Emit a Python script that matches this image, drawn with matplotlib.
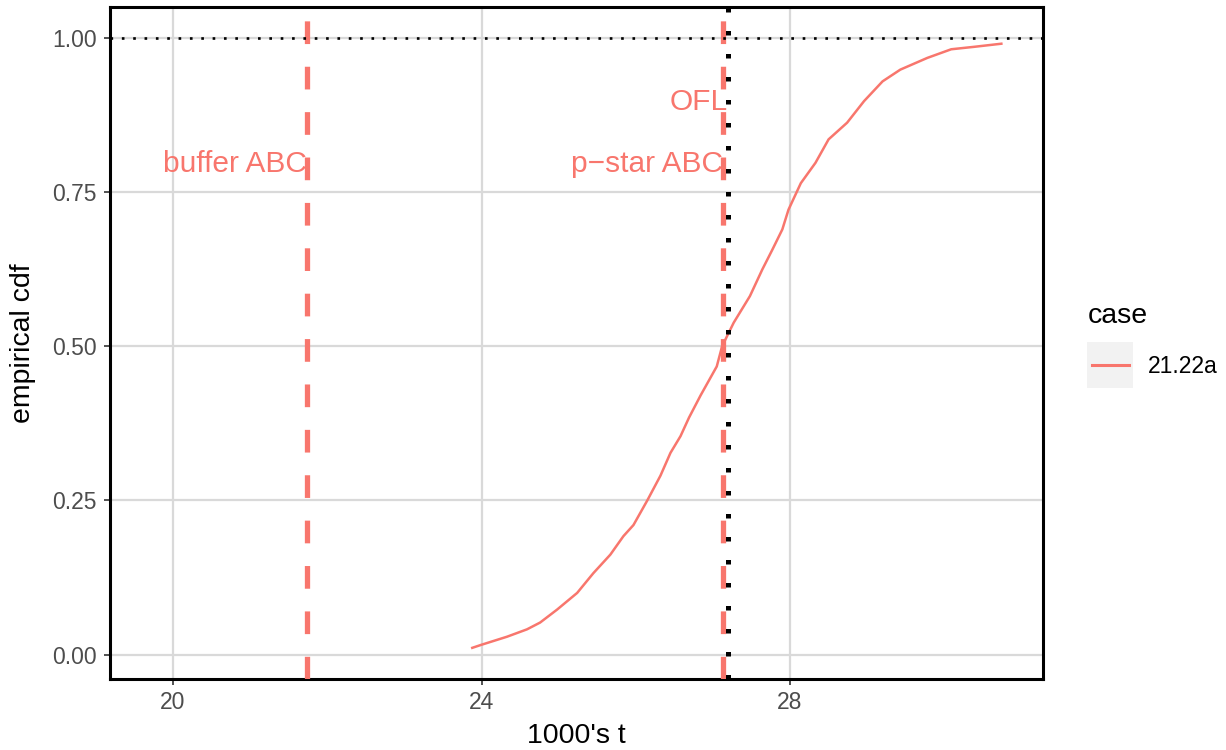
import matplotlib
matplotlib.use("Agg")
import matplotlib.pyplot as plt
from matplotlib.patches import Rectangle
from matplotlib.lines import Line2D

plt.rcParams['font.family'] = ['Liberation Sans', 'DejaVu Sans']

# ---- data ----
cdf_x = [23.88, 24.00, 24.33, 24.59, 24.76, 24.98, 25.24, 25.45, 25.67, 25.84,
         25.97, 26.15, 26.32, 26.45, 26.58, 26.69, 26.84, 27.05, 27.12, 27.27,
         27.48, 27.64, 27.77, 27.90, 27.98, 28.14, 28.33, 28.50, 28.74,
         28.96, 29.20, 29.43, 29.78, 30.09, 30.39, 30.74]
cdf_y = [0.011, 0.016, 0.029, 0.041, 0.052, 0.073, 0.100, 0.132, 0.162, 0.192,
         0.210, 0.250, 0.290, 0.327, 0.354, 0.384, 0.420, 0.467, 0.500, 0.538,
         0.581, 0.624, 0.656, 0.689, 0.721, 0.764, 0.797, 0.835, 0.862,
         0.897, 0.929, 0.948, 0.967, 0.981, 0.985, 0.990]
case_label = "21.22a"
buffer_abc = 21.734
pstar_abc = 27.13
ofl = 27.19
ref_level = 1.0
label_names = ["buffer ABC", "p\u2212star ABC", "OFL"]
label_x = [buffer_abc, pstar_abc, ofl]
label_y = [0.8, 0.8, 0.9]
xticks = [20, 24, 28]
yticks = [0.00, 0.25, 0.50, 0.75, 1.00]
ytick_labels = ["0.00", "0.25", "0.50", "0.75", "1.00"]

SALMON = "#F8766D"
W, H = 1226, 750
fig = plt.figure(figsize=(W / 100, H / 100), dpi=100)
ax = fig.add_axes([110 / W, 1 - 679 / H, (1043 - 110) / W, (679 - 7) / H])

ax.set_xlim(19.183, 31.28)
ax.set_ylim(-0.0395, 1.0495)

ax.grid(True, color="#D9D9D9", linewidth=1.6, zorder=0)
ax.set_axisbelow(True)

ax.plot(cdf_x, cdf_y, color=SALMON, linewidth=1.8, zorder=3)

for xv in (buffer_abc, pstar_abc):
    ax.axvline(xv, color=SALMON, linewidth=3.8, dashes=(4.3, 4.3),
               solid_capstyle='butt', dash_capstyle='butt', zorder=4)
ax.axvline(ofl, color="black", linewidth=3.6, dashes=(0.9, 3.7),
           dash_capstyle='butt', zorder=5)
ax.axhline(ref_level, color="black", linewidth=1.9, dashes=(1, 3.3),
           dash_capstyle='butt', zorder=5)

fs_text = 21.5
for name, xv, yv in zip(label_names, label_x, label_y):
    ax.annotate(name, xy=(xv, yv), xytext=(0, -0.358 * fs_text),
                textcoords='offset points', ha='right', va='baseline',
                color=SALMON, fontsize=fs_text, zorder=6)

ax.set_xticks(xticks)
ax.set_xticklabels([str(t) for t in xticks])
ax.set_yticks(yticks)
ax.set_yticklabels(ytick_labels)
ax.tick_params(axis='both', direction='out', length=4.3, width=1.2,
               color="#333333", labelcolor="#4D4D4D", labelsize=16.5)
ax.tick_params(axis='x', pad=4.5)
ax.tick_params(axis='y', pad=5.5)
for sp in ax.spines.values():
    sp.set_linewidth(2.2)
    sp.set_color("black")

ax.set_xlabel("1000's t", fontsize=20.5, labelpad=6)
ax.set_ylabel("empirical cdf", fontsize=20.5, labelpad=11)

# ---- legend (manual, ggplot style) ----
def fx(px):
    return px / W

def fy(py):
    return 1 - py / H

fig.text(fx(1088), fy(323.3), "case", fontsize=20.5, ha='left', va='baseline')
fig.patches.append(Rectangle((fx(1087), fy(387.5)), (1133 - 1087) / W, (387.5 - 341.7) / H,
                             transform=fig.transFigure, facecolor="#F2F2F2",
                             edgecolor='none'))
fig.lines.append(Line2D([fx(1092), fx(1129)], [fy(365), fy(365)],
                        transform=fig.transFigure, color=SALMON, linewidth=2.2))
fig.text(fx(1148), fy(372.7), case_label, fontsize=16.5, ha='left', va='baseline')

fig.savefig("out.png", dpi=100)
